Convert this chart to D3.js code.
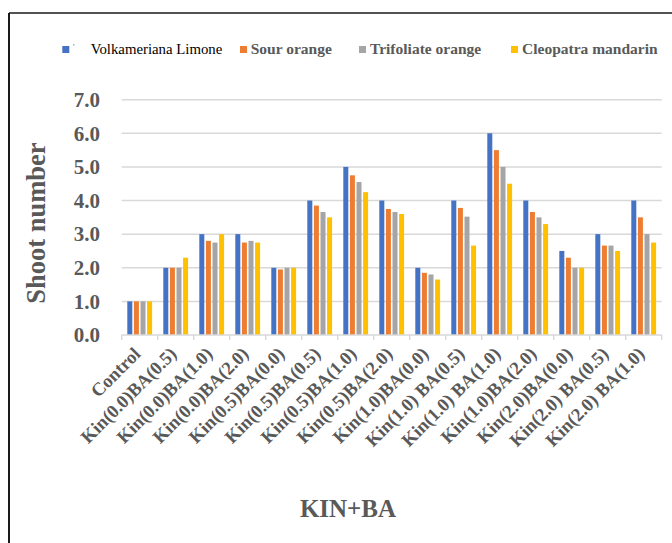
<!DOCTYPE html>
<html>
<head>
<meta charset="utf-8">
<script src="https://cdn.jsdelivr.net/npm/d3@7"></script>
<style>
  html, body { margin: 0; padding: 0; background: #fff; }
  svg { display: block; }
</style>
</head>
<body>
<svg id="chart" width="672" height="543"></svg>
<script>
// Treatment combinations (kinetin + benzyladenine, mg/L)
const categories = [
  "Control", "Kin(0.0)BA(0.5)", "Kin(0.0)BA(1.0)", "Kin(0.0)BA(2.0)",
  "Kin(0.5)BA(0.0)", "Kin(0.5)BA(0.5)", "Kin(0.5)BA(1.0)", "Kin(0.5)BA(2.0)",
  "Kin(1.0)BA(0.0)", "Kin(1.0) BA(0.5)", "Kin(1.0) BA(1.0)", "Kin(1.0)BA(2.0)",
  "Kin(2.0)BA(0.0)", "Kin(2.0) BA(0.5)", "Kin(2.0) BA(1.0)"
];

// Rootstocks
const seriesNames = ["Volkameriana Limone", "Sour orange", "Trifoliate orange", "Cleopatra mandarin"];

// Mean shoot number per rootstock, in category order
const volkameriana = [1, 2, 3, 3, 2, 4, 5, 4, 2, 4, 6, 4, 2.5, 3, 4];
const sourOrange   = [1, 2, 2.8, 2.75, 1.95, 3.85, 4.75, 3.75, 1.85, 3.78, 5.5, 3.66, 2.3, 2.66, 3.5];
const trifoliate   = [1, 2, 2.75, 2.8, 2, 3.66, 4.55, 3.66, 1.8, 3.52, 5.0, 3.5, 2, 2.66, 3.0];
const cleopatra    = [1, 2.3, 3, 2.75, 2, 3.5, 4.25, 3.6, 1.65, 2.66, 4.5, 3.3, 2, 2.5, 2.75];

const yTicks = [0, 1, 2, 3, 4, 5, 6, 7];

const seriesValues = [volkameriana, sourOrange, trifoliate, cleopatra];
const colors = ["#4472C4", "#ED7D31", "#A5A5A5", "#FFC000"];
const textGray = "#595959";
const serif = "'Liberation Serif', 'Times New Roman', serif";

const svg = d3.select("#chart");

// Outer frame (left and top edges visible)
svg.append("line").attr("x1", 9).attr("x2", 9).attr("y1", 13).attr("y2", 543)
  .attr("stroke", "#1a1a1a").attr("stroke-width", 2);
svg.append("line").attr("x1", 9).attr("x2", 672).attr("y1", 13).attr("y2", 13)
  .attr("stroke", "#1a1a1a").attr("stroke-width", 1.5);

const plot = { left: 121.7, right: 661.7, top: 99.7, bottom: 335 };

const x = d3.scaleBand().domain(categories).range([plot.left, plot.right]).padding(0);
const groupPad = 5.6;
const xInner = d3.scaleBand().domain(d3.range(seriesNames.length))
  .range([groupPad, x.bandwidth() - groupPad]).paddingInner(0.24).paddingOuter(0);
const y = d3.scaleLinear().domain([0, 7]).range([plot.bottom, plot.top]);

// Horizontal gridlines
svg.append("g").selectAll("line").data(yTicks.filter(d => d > 0)).join("line")
  .attr("x1", plot.left).attr("x2", plot.right)
  .attr("y1", d => y(d)).attr("y2", d => y(d))
  .attr("stroke", "#d9d9d9").attr("stroke-width", 1.5);

// Bars
const groups = svg.append("g").selectAll("g").data(categories).join("g")
  .attr("transform", d => `translate(${x(d)},0)`);
groups.selectAll("rect")
  .data((c, ci) => seriesValues.map((vals, si) => ({ si, v: vals[ci] })))
  .join("rect")
  .attr("x", d => xInner(d.si))
  .attr("width", xInner.bandwidth())
  .attr("y", d => y(d.v))
  .attr("height", d => y(0) - y(d.v))
  .attr("fill", d => colors[d.si]);

// Category axis with tick marks between groups
const xAxisG = svg.append("g");
xAxisG.append("line").attr("x1", plot.left).attr("x2", plot.right)
  .attr("y1", y(0)).attr("y2", y(0)).attr("stroke", "#d9d9d9").attr("stroke-width", 1.5);
const boundaries = categories.map(c => x(c)).concat([plot.right]);
xAxisG.selectAll("line.tick").data(boundaries).join("line").attr("class", "tick")
  .attr("x1", d => d).attr("x2", d => d)
  .attr("y1", y(0)).attr("y2", y(0) + 5)
  .attr("stroke", "#d9d9d9").attr("stroke-width", 1.5);

xAxisG.selectAll("text").data(categories).join("text")
  .attr("transform", d => `translate(${x(d) + x.bandwidth() / 2 + 2},${y(0) + 20}) rotate(-45)`)
  .attr("text-anchor", "end")
  .attr("font-family", serif).attr("font-weight", "bold").attr("font-size", 18.5)
  .attr("fill", textGray)
  .text(d => d);

// Value axis labels
const yAxis = d3.axisLeft(y).tickValues(yTicks).tickSize(0).tickPadding(0)
  .tickFormat(d3.format(".1f"));
const yAxisG = svg.append("g").attr("transform", `translate(100,0)`).call(yAxis);
yAxisG.select(".domain").remove();
yAxisG.selectAll("text")
  .attr("font-family", serif).attr("font-weight", "bold").attr("font-size", 21)
  .attr("fill", textGray);

// Axis titles
svg.append("text")
  .attr("transform", `translate(45,223) rotate(-90)`)
  .attr("text-anchor", "middle")
  .attr("font-family", serif).attr("font-weight", "bold").attr("font-size", 26.5)
  .attr("fill", textGray)
  .text("Shoot number");

svg.append("text")
  .attr("x", 348).attr("y", 517)
  .attr("text-anchor", "middle")
  .attr("font-family", serif).attr("font-weight", "bold").attr("font-size", 25)
  .attr("fill", textGray)
  .text("KIN+BA");

// Legend
const legendItems = [
  { sq: 62.3, tx: 90.7, bold: false, fill: "#000" },
  { sq: 240, tx: 250.7, bold: true, fill: textGray },
  { sq: 359, tx: 370, bold: true, fill: textGray },
  { sq: 511, tx: 522, bold: true, fill: textGray }
];
const legend = svg.append("g");
legend.selectAll("rect").data(legendItems).join("rect")
  .attr("x", d => d.sq).attr("y", 46).attr("width", 7).attr("height", 7)
  .attr("fill", (d, i) => colors[i]);
legend.selectAll("text.lbl").data(legendItems).join("text").attr("class", "lbl")
  .attr("x", d => d.tx).attr("y", 53.5)
  .attr("font-family", serif)
  .attr("font-weight", d => d.bold ? "bold" : "normal")
  .attr("font-size", d => d.bold ? 15.5 : 14.8)
  .attr("fill", d => d.fill)
  .text((d, i) => seriesNames[i]);
legend.append("text").attr("x", 73).attr("y", 50)
  .attr("font-family", serif).attr("font-size", 8).attr("fill", textGray).text("'");
</script>
</body>
</html>
